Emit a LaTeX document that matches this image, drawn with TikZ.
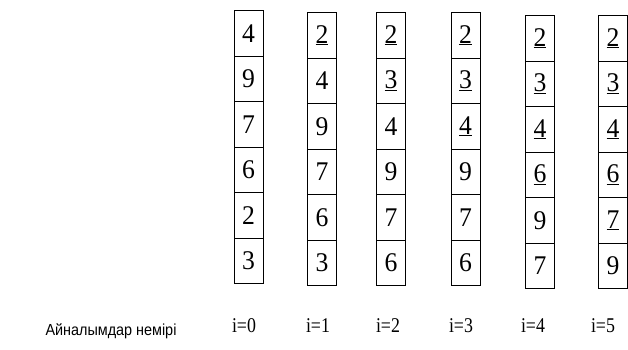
\documentclass[tikz,border=0pt]{standalone}
\usepackage{fontspec}
\setmainfont{Liberation Serif}
\newfontfamily\cyrfont{Liberation Sans}
\newcommand{\dg}[1]{\scalebox{0.95}[1]{#1}}
\newcommand{\ud}[1]{\scalebox{0.95}[1]{\underline{#1}}}
\begin{document}
\begin{tikzpicture}[x=1pt,y=1pt,
  cell/.style={draw, line width=1pt, minimum width=29pt, minimum height=45.5pt,
    inner sep=0pt, anchor=north, font=\fontsize{27}{27}\selectfont},
  lbl/.style={font=\fontsize{21}{21}\selectfont, inner sep=0pt},
  captext/.style={font=\cyrfont\fontsize{16}{16}\selectfont, inner sep=0pt}]
\useasboundingbox (0,0) rectangle (628,349);
% column 0
\foreach [count=\r from 0] \v in {\dg{4},\dg{9},\dg{7},\dg{6},\dg{2},\dg{3}}
  \node[cell] (a\r) at (248.5,{339-45.5*\r}) {\v};
% column 1
\foreach [count=\r from 0] \v in {\ud{2},\dg{4},\dg{9},\dg{7},\dg{6},\dg{3}}
  \node[cell] (b\r) at (322,{337-45.5*\r}) {\v};
% column 2
\foreach [count=\r from 0] \v in {\ud{2},\ud{3},\dg{4},\dg{9},\dg{7},\dg{6}}
  \node[cell] (c\r) at (391,{337-45.5*\r}) {\v};
% column 3
\foreach [count=\r from 0] \v in {\ud{2},\ud{3},\ud{4},\dg{9},\dg{7},\dg{6}}
  \node[cell] (d\r) at (465.5,{337-45.5*\r}) {\v};
% column 4
\foreach [count=\r from 0] \v in {\ud{2},\ud{3},\ud{4},\ud{6},\dg{9},\dg{7}}
  \node[cell] (e\r) at (540,{334-45.5*\r}) {\v};
% column 5
\foreach [count=\r from 0] \v in {\ud{2},\ud{3},\ud{4},\ud{6},\ud{7},\dg{9}}
  \node[cell] (f\r) at (613,{334-45.5*\r}) {\v};
% labels
\node[lbl] (l0) at (244,23) {\scalebox{0.85}[1]{i=0}};
\node[lbl] (l1) at (318,23) {\scalebox{0.85}[1]{i=1}};
\node[lbl] (l2) at (388,23) {\scalebox{0.85}[1]{i=2}};
\node[lbl] (l3) at (461,23) {\scalebox{0.85}[1]{i=3}};
\node[lbl] (l4) at (533,23) {\scalebox{0.85}[1]{i=4}};
\node[lbl] (l5) at (603,23) {\scalebox{0.85}[1]{i=5}};
\node[captext] (title) at (111,18) {\scalebox{0.9}[1]{Айналымдар немірі}};
\end{tikzpicture}
\end{document}
